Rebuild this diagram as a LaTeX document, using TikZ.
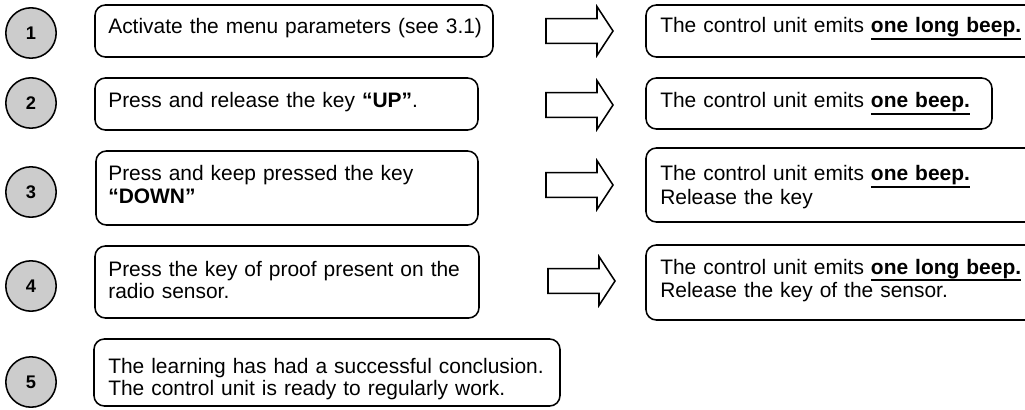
\documentclass[tikz,border=0pt]{standalone}
\usepackage{fontspec}
\setmainfont{Liberation Sans}
\usetikzlibrary{positioning}
\tikzset{
  num/.style={circle, draw, line width=1.1pt, fill=gray!40, minimum size=1.26cm, inner sep=0pt, font=\fontsize{13}{14}\selectfont\bfseries},
  frm/.style={draw, line width=1.1pt, rounded corners=0.26cm, inner sep=0pt},
  txt/.style={anchor=base west, inner sep=0pt, align=left, text width=11.4cm, font=\fontsize{14.9}{15.65}\selectfont},
  blk/.style={draw, line width=1.1pt, line join=miter}}
\newcommand{\ulbf}[1]{\setbox0=\hbox{\textbf{#1}}\rlap{\rule[\dimexpr-\dp0-2pt\relax]{\wd0}{1.3pt}}\box0}

\begin{document}
\begin{tikzpicture}
\clip (0,0) rectangle (25.625,-10.25);
\coordinate (a1) at (13.65,-0.775);
\coordinate (a2) at (13.65,-2.625);
\coordinate (a3) at (13.65,-4.625);
\coordinate (a4) at (13.7,-7.025);
\node [num] (n1) at (0.775,-0.825) {1};
\node [num] (n2) at (0.775,-2.575) {2};
\node [num] (n3) at (0.775,-4.8) {3};
\node [num] (n4) at (0.775,-7.15) {4};
\node [num] (n5) at (0.775,-9.55) {5};
\node [frm, minimum width=9.95cm, minimum height=1.3cm] (l1) at (7.35,-0.775) {};
\node [frm, minimum width=9.575cm, minimum height=1.3cm] (l2) at (7.1625,-2.6) {};
\node [frm, minimum width=9.55cm, minimum height=1.85cm] (l3) at (7.175,-4.7) {};
\node [frm, minimum width=9.6cm, minimum height=1.8cm] (l4) at (7.175,-7.05) {};
\node [frm, minimum width=11.65cm, minimum height=1.675cm] (l5) at (8.175,-9.3125) {};
\node [frm, minimum width=9.975cm, minimum height=1.3cm] (r1) at (21.1375,-0.775) {};
\node [frm, minimum width=8.65cm, minimum height=1.275cm] (r2) at (20.475,-2.5875) {};
\node [frm, minimum width=9.975cm, minimum height=1.85cm] (r3) at (21.1375,-4.625) {};
\node [frm, minimum width=9.975cm, minimum height=1.875cm] (r4) at (21.1375,-7.0625) {};
\node [txt] (t1) at (2.7,-0.85) {Activate the menu parameters (see 3.1)};
\node [txt] (t2) at (2.7,-2.7) {Press and release the key \textbf{“UP”}.};
\node [txt] (t3) at (2.7,-4.525) {Press and keep pressed the key\\ \textbf{“DOWN”}};
\node [txt] (t4) at (2.7,-6.9) {Press the key of proof present on the\\ radio sensor.};
\node [txt] (t5) at (2.7,-9.325) {The learning has had a successful conclusion.\\ The control unit is ready to regularly work.};
\node [txt, text width=10cm] (u1) at (16.5,-0.825) {The control unit emits \ulbf{one long beep.}};
\node [txt, text width=10cm] (u2) at (16.5,-2.7) {The control unit emits \ulbf{one beep.}};
\node [txt, text width=10cm] (u3) at (16.5,-4.525) {The control unit emits \ulbf{one beep.}\\ Release the key};
\node [txt, text width=10cm] (u4) at (16.5,-6.85) {The control unit emits \ulbf{one long beep.}\\ Release the key of the sensor.};
\draw [blk] (a1) ++(0,0.31) -- ++(1.275,0) -- ++(0,0.3) -- ++(0.4,-0.61) -- ++(-0.4,-0.61) -- ++(0,0.3) -- ++(-1.275,0) -- cycle;
\draw [blk] (a2) ++(0,0.31) -- ++(1.275,0) -- ++(0,0.3) -- ++(0.4,-0.61) -- ++(-0.4,-0.61) -- ++(0,0.3) -- ++(-1.275,0) -- cycle;
\draw [blk] (a3) ++(0,0.31) -- ++(1.275,0) -- ++(0,0.3) -- ++(0.4,-0.61) -- ++(-0.4,-0.61) -- ++(0,0.3) -- ++(-1.275,0) -- cycle;
\draw [blk] (a4) ++(0,0.31) -- ++(1.275,0) -- ++(0,0.3) -- ++(0.4,-0.61) -- ++(-0.4,-0.61) -- ++(0,0.3) -- ++(-1.275,0) -- cycle;
\end{tikzpicture}
\end{document}
